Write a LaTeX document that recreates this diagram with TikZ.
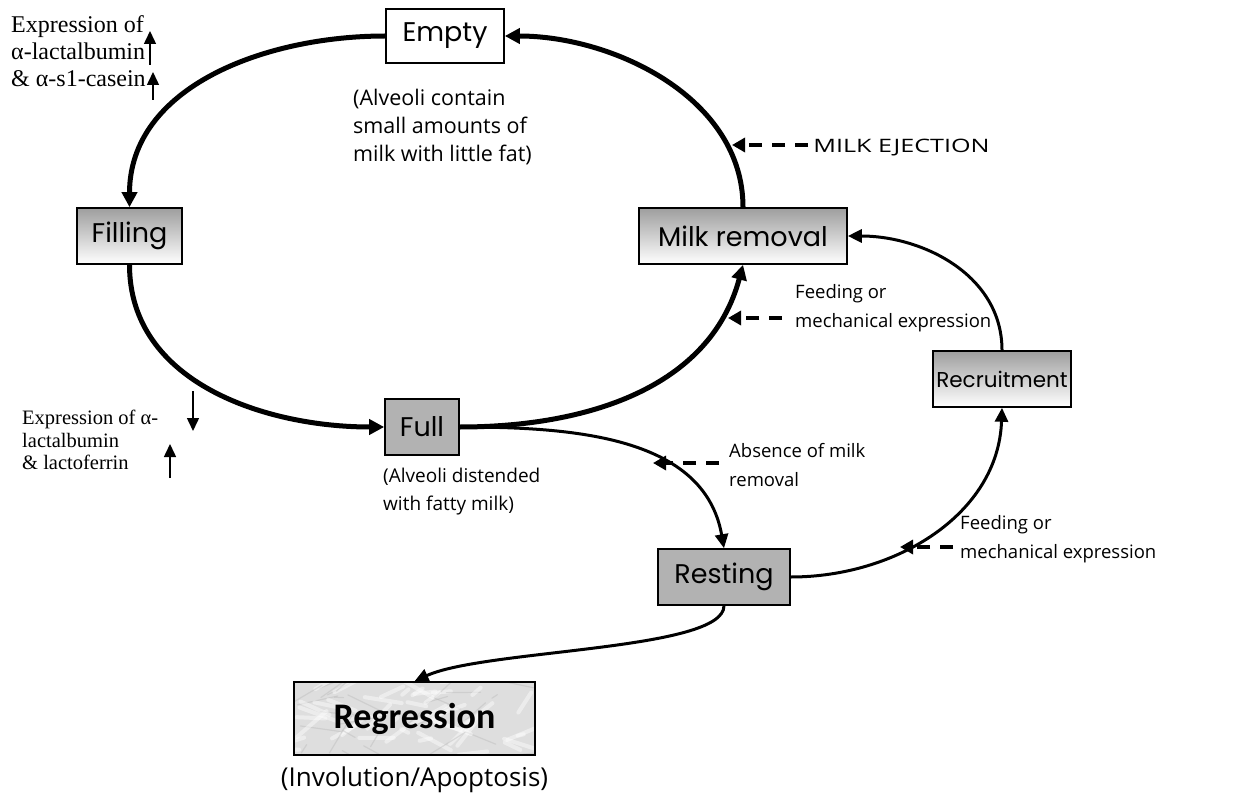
\documentclass[tikz,border=0pt]{standalone}
\usepackage{fontspec}
\setmainfont{Liberation Serif}
\newfontfamily\boxfont{Poppins}
\newfontfamily\lblfont{Open Sans}
\newfontfamily\regfont{Carlito}
\usetikzlibrary{arrows.meta,backgrounds}
\begin{document}
\begin{tikzpicture}[x=1pt,y=1pt,
  box/.style={draw=black,line width=1.6pt,inner sep=0pt,font=\boxfont\fontsize{27}{30}\selectfont},
  gbox/.style={box,top color=black!38,bottom color=white},
  sbox/.style={box,fill=black!30},
  loopar/.style={line width=5pt,-{Triangle[length=15pt,width=15pt]}},
  thinar/.style={line width=3pt,-{Triangle[length=14pt,width=13pt]}},
  dashar/.style={line width=4pt,dash pattern=on 13pt off 10pt,-{Triangle[length=13pt,width=14pt]}},
  smallar/.style={line width=1.5pt,-{Triangle[length=13pt,width=12pt]}},
  lbl/.style={font=\lblfont\fontsize{18.5}{29}\selectfont,align=left,inner sep=0pt},
  ttl/.style={font=\fontsize{24}{27}\selectfont,align=left,inner sep=0pt},
  ttls/.style={font=\fontsize{20.5}{22.5}\selectfont,align=left,inner sep=0pt}
]
\useasboundingbox (0,0) rectangle (1246,-802);

% boxes
\node[box,fill=white,minimum width=118pt,minimum height=54pt] (empty) at (445,-36) {Empty};
\node[gbox,minimum width=105pt,minimum height=56pt] (fill) at (129.5,-236) {Filling};
\node[gbox,minimum width=208pt,minimum height=56pt] (mr) at (743,-236) {Milk removal};
\node[sbox,minimum width=74pt,minimum height=56pt] (full) at (422,-427) {Full};
\node[sbox,minimum width=132pt,minimum height=56pt] (rest) at (724,-577) {Resting};
\node[gbox,minimum width=138pt,minimum height=56pt,font=\boxfont\fontsize{21.5}{24}\selectfont] (rec) at (1002,-379) {Recruitment};
\node[draw=black,line width=1.6pt,inner sep=0pt,minimum width=241pt,minimum height=73pt,
      font=\regfont\bfseries\fontsize{36}{40}\selectfont] (reg) at (414.5,-718.5) {Regression};
\begin{scope}[on background layer]
  \fill[white] (0,0) rectangle (1246,-802);
  \fill[black!13] (reg.south west) rectangle (reg.north east);
  \clip (reg.south west) rectangle (reg.north east);
  \pgfmathsetseed{11}
  \foreach \i in {1,...,90}{
    \pgfmathsetmacro\xa{285+rnd*255}
    \pgfmathsetmacro\ya{-(678+rnd*82)}
    \pgfmathsetmacro\an{-30+rnd*90}
    \pgfmathsetmacro\ln{6+rnd*40}
    \pgfmathsetmacro\sh{rnd}
    \ifdim\sh pt>0.4pt
      \draw[white,line width=4pt,opacity=0.45,line cap=round] (\xa,\ya) -- ++(\an:\ln);
    \else
      \draw[black!30,line width=1.2pt,opacity=0.35,line cap=round] (\xa,\ya) -- ++(\an:\ln);
    \fi
  }
\end{scope}

% main loop
\draw[loopar] (mr.north) to[out=90,in=0,looseness=0.95] (empty.east);
\draw[loopar] (empty.west) to[out=180,in=90] (fill.north);
\draw[loopar] (fill.south) to[out=-90,in=180] (full.west);
\draw[loopar] (full.east) to[out=0,in=-105] (mr.south);

% thin connectors
\draw[thinar] (full.east) to[out=0,in=100] (rest.north);
\draw[thinar] (rest.east) to[out=0,in=-92] (rec.south);
\draw[thinar] (rec.north) to[out=90,in=0] (mr.east);
\draw[thinar] (rest.south) .. controls +(0,-45) and +(70,32) .. (reg.north);

% labels and dashed arrows
\node[lbl,anchor=west,xscale=1.36,transform shape] (ej) at (813,-148) {MILK EJECTION};
\coordinate (eja) at (808,-145);
\coordinate (ejt) at (732,-145);
\draw[dashar] (eja) -- (ejt);

\node[lbl,anchor=north west] (feed1) at (795,-284) {Feeding or\\mechanical expression};
\coordinate (f1a) at (782,-318);
\coordinate (f1t) at (728,-318);
\draw[dashar] (f1a) -- (f1t);

\node[lbl,anchor=north west] (abs) at (729,-443) {Absence of milk\\removal};
\coordinate (aba) at (719,-463);
\coordinate (abt) at (653,-463);
\draw[dashar] (aba) -- (abt);

\node[lbl,anchor=north west] (feed2) at (960,-515) {Feeding or\\mechanical expression};
\coordinate (f2a) at (953,-547);
\coordinate (f2t) at (900,-547);
\draw[dashar] (f2a) -- (f2t);

\node[lbl,anchor=north west,font=\lblfont\fontsize{21.5}{28}\selectfont] (alv1) at (353,-89) {(Alveoli contain\\small amounts of\\milk with little fat)};
\node[lbl,anchor=north west,font=\lblfont\fontsize{19}{28}\selectfont] (alv2) at (383,-468) {(Alveoli distended\\with fatty milk)};
\node[lbl,font=\lblfont\fontsize{26}{30}\selectfont] (inv) at (414.5,-780) {(Involution/Apoptosis)};

% left expression texts
\node[ttl,anchor=north west] (ex1) at (11,-15) {Expression of\\α-lactalbumin\\\& α-s1-casein};
\draw[smallar] (150,-65) -- (150,-31);
\draw[smallar] (153,-100) -- (153,-72);

\node[ttls,anchor=north west] (ex2) at (22,-410) {Expression of α-\\lactalbumin\\\& lactoferrin};
\draw[smallar] (193,-391) -- (193,-431);
\draw[smallar] (170,-478) -- (170,-444);
\end{tikzpicture}
\end{document}
